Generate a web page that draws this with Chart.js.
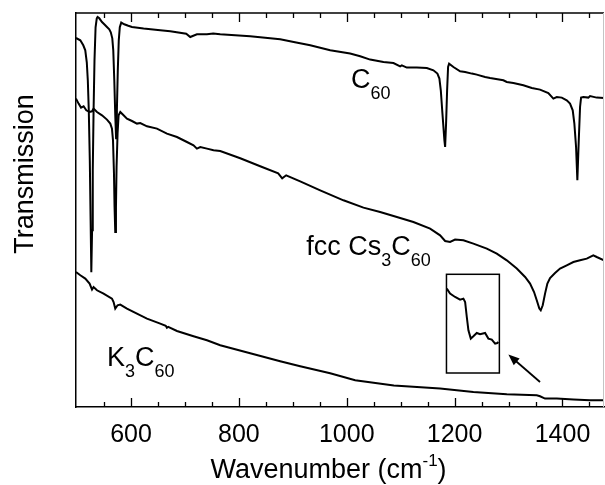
<!DOCTYPE html>
<html>
<head>
<meta charset="utf-8">
<script src="https://cdn.jsdelivr.net/npm/chart.js@4.4.0/dist/chart.umd.min.js"></script>
<style>
  html, body { margin: 0; padding: 0; background: #fff; }
  #chart { display: block; }
</style>
</head>
<body>
<canvas id="chart" width="605" height="485"></canvas>
<script>
// IR transmission spectra, offset vertically (arb. units)
var c60Wn = [498.0, 506.0, 511.5, 515.2, 518.0, 519.9, 521.7, 523.6, 525.1, 526.4, 527.8, 529.1, 530.6, 532.3, 534.3, 536.5, 538.0, 541.2, 546.2, 550.4, 555.4, 559.7, 562.5, 565.3, 567.1, 569.0, 570.8, 572.3, 573.8, 575.5, 577.3, 579.2, 581.9, 587.5, 594.9, 601.8, 623.3, 654.2, 672.8, 702.4, 709.8, 722.2, 740.8, 752.4, 765.4, 793.2, 821.0, 848.8, 876.6, 904.0, 932.3, 969.3, 1006.3, 1024.9, 1043.4, 1068.1, 1086.6, 1099.0, 1102.1, 1111.4, 1129.9, 1148.5, 1160.7, 1168.1, 1171.8, 1174.4, 1177.4, 1181.1, 1182.4, 1184.2, 1186.1, 1187.9, 1189.8, 1197.8, 1210.2, 1219.5, 1231.9, 1241.1, 1256.5, 1265.8, 1290.4, 1296.7, 1309.0, 1327.5, 1343.1, 1358.4, 1373.8, 1383.1, 1389.4, 1398.7, 1407.9, 1414.0, 1419.0, 1422.0, 1425.2, 1427.6, 1430.2, 1432.6, 1434.5, 1438.7, 1448.0, 1451.1, 1463.5, 1477.0];
var c60T = [369.0, 366.7, 361.7, 356.7, 344.7, 326.7, 296.7, 246.7, 186.7, 134.7, 176.7, 236.7, 296.7, 346.7, 379.7, 388.7, 390.0, 388.7, 385.0, 382.7, 380.0, 377.7, 374.7, 368.7, 356.7, 326.7, 291.7, 268.7, 296.7, 336.7, 366.7, 379.7, 384.4, 382.7, 381.2, 380.0, 378.4, 376.7, 375.7, 373.2, 370.0, 372.7, 372.7, 373.4, 372.7, 371.7, 370.7, 369.2, 367.7, 364.7, 361.7, 356.7, 353.4, 350.7, 347.4, 345.0, 344.0, 340.7, 341.7, 339.4, 339.4, 339.0, 336.7, 333.4, 328.4, 316.7, 293.7, 266.7, 260.0, 283.7, 316.7, 340.0, 343.4, 340.0, 335.7, 335.0, 333.4, 332.4, 330.0, 329.0, 326.7, 325.0, 324.0, 321.7, 319.0, 317.4, 314.0, 308.4, 310.0, 309.4, 306.7, 303.4, 296.7, 283.7, 260.0, 226.7, 266.7, 300.0, 309.4, 310.0, 309.4, 311.0, 309.4, 309.0];

var cs3Wn = [498.0, 502.8, 507.3, 512.1, 517.1, 523.2, 527.7, 530.6, 536.9, 546.2, 555.4, 561.6, 564.7, 566.6, 568.4, 569.5, 570.8, 572.1, 573.2, 575.1, 577.0, 580.1, 586.2, 592.5, 601.8, 611.0, 617.2, 629.6, 648.1, 666.6, 685.2, 703.7, 715.9, 722.2, 728.4, 740.8, 753.0, 765.4, 802.5, 839.5, 872.9, 880.3, 887.7, 913.7, 950.8, 993.9, 1031.0, 1061.9, 1092.9, 1123.6, 1154.6, 1173.1, 1182.4, 1191.6, 1200.9, 1216.3, 1234.8, 1259.7, 1278.2, 1296.7, 1315.3, 1330.7, 1339.9, 1347.3, 1352.3, 1357.1, 1359.7, 1363.4, 1367.7, 1372.0, 1377.0, 1386.2, 1395.5, 1407.9, 1420.2, 1432.6, 1445.0, 1457.2, 1463.5, 1477.0];
var cs3T = [308.4, 303.4, 299.4, 300.7, 296.7, 295.0, 295.7, 298.4, 295.0, 291.7, 287.4, 283.4, 278.4, 266.7, 233.7, 200.0, 175.0, 200.0, 240.0, 273.7, 291.7, 295.0, 291.7, 288.4, 286.0, 283.4, 284.0, 280.7, 278.4, 273.4, 270.0, 265.0, 261.7, 258.4, 260.0, 258.4, 256.7, 256.0, 248.7, 240.7, 233.7, 228.7, 231.7, 225.7, 216.7, 206.7, 199.4, 195.0, 190.0, 185.0, 178.4, 171.7, 166.0, 165.0, 167.4, 166.7, 163.4, 158.4, 153.4, 146.7, 138.4, 130.0, 123.4, 115.0, 106.7, 98.4, 96.7, 101.7, 113.4, 123.4, 129.0, 134.0, 138.4, 141.7, 145.0, 146.7, 148.4, 151.7, 150.0, 146.7];

var k3Wn = [498.0, 506.0, 515.2, 523.2, 527.7, 530.6, 536.9, 549.1, 564.7, 567.7, 570.8, 575.1, 580.1, 592.5, 611.0, 629.6, 654.2, 664.4, 666.6, 669.0, 685.2, 715.9, 740.8, 765.4, 821.0, 876.6, 913.7, 969.3, 1015.6, 1087.3, 1173.1, 1234.8, 1296.7, 1352.3, 1358.4, 1367.7, 1389.4, 1420.2, 1451.1, 1477.0];
var k3T = [135.0, 131.7, 128.4, 123.4, 117.4, 120.0, 116.7, 113.4, 108.4, 105.0, 98.4, 101.7, 102.4, 98.4, 93.4, 88.4, 83.4, 81.2, 79.2, 80.2, 76.0, 70.7, 66.7, 61.7, 53.7, 45.7, 40.7, 33.7, 26.7, 21.5, 18.4, 15.0, 12.7, 11.7, 10.7, 8.4, 8.4, 7.4, 6.7, 6.7];

// magnified K3C60 step near 1360 cm-1, shown inside the box
var insetWn = [1185.5, 1191.6, 1200.9, 1210.2, 1216.3, 1219.5, 1222.6, 1225.6, 1230.0, 1234.8, 1241.1, 1247.2, 1256.5, 1262.6, 1268.9, 1275.1, 1279.3, 1281.2];
var insetT = [118.4, 113.4, 110.0, 107.4, 108.4, 105.0, 90.0, 76.7, 68.4, 70.7, 74.0, 72.7, 74.0, 68.4, 67.4, 63.4, 64.0, 65.0];

var insetBoxWn = [1184.9, 1283.0];
var insetBoxT = [34.0, 132.7];
var arrowWn = [1358.4, 1299.7];   // tail, head
var arrowT = [25.0, 52.4];

var tickValues = [600, 800, 1000, 1200, 1400];

var FONT = '"Liberation Sans", Arial, Helvetica, sans-serif';

function toPoints(xs, ys) {
  var pts = [];
  for (var i = 0; i < xs.length; i++) pts.push({ x: xs[i], y: ys[i] });
  return pts;
}

function lineSet(xs, ys) {
  return {
    data: toPoints(xs, ys),
    showLine: true,
    borderColor: '#000',
    borderWidth: 2,
    pointRadius: 0,
    tension: 0,
    fill: false
  };
}

// text with subscript / superscript pieces: [text, shift]
function richText(ctx, parts, x, y, size, smallSize) {
  for (var i = 0; i < parts.length; i++) {
    var p = parts[i];
    ctx.font = (p[1] ? smallSize : size) + 'px ' + FONT;
    ctx.fillText(p[0], x, y + p[1]);
    x += ctx.measureText(p[0]).width;
  }
}
function richWidth(ctx, parts, size, smallSize) {
  var w = 0;
  for (var i = 0; i < parts.length; i++) {
    ctx.font = (parts[i][1] ? smallSize : size) + 'px ' + FONT;
    w += ctx.measureText(parts[i][0]).width;
  }
  return w;
}

var decor = {
  id: 'decor',
  afterDraw: function (chart) {
    var ctx = chart.ctx, sx = chart.scales.x, sy = chart.scales.y, a = chart.chartArea;
    ctx.save();

    // top frame and faint right edge
    ctx.strokeStyle = '#000';
    ctx.lineWidth = 1.5;
    ctx.beginPath();
    ctx.moveTo(a.left, a.top);
    ctx.lineTo(a.right, a.top);
    ctx.stroke();
    ctx.strokeStyle = '#c4c4c4';
    ctx.lineWidth = 1;
    ctx.beginPath();
    ctx.moveTo(a.right - 0.5, a.top);
    ctx.lineTo(a.right - 0.5, a.bottom);
    ctx.stroke();

    // inward ticks, bottom and top
    ctx.strokeStyle = '#000';
    ctx.lineWidth = 1.3;
    for (var v = 550; v <= 1450; v += 50) {
      var px = Math.round(sx.getPixelForValue(v)) + 0.5;
      var len = (v % 200 === 0) ? 9 : 5;
      ctx.beginPath();
      ctx.moveTo(px, a.bottom);
      ctx.lineTo(px, a.bottom - len);
      ctx.moveTo(px, a.top);
      ctx.lineTo(px, a.top + len);
      ctx.stroke();
    }

    // inset frame
    var bx0 = sx.getPixelForValue(insetBoxWn[0]), bx1 = sx.getPixelForValue(insetBoxWn[1]);
    var by0 = sy.getPixelForValue(insetBoxT[1]), by1 = sy.getPixelForValue(insetBoxT[0]);
    ctx.lineWidth = 1.5;
    ctx.strokeRect(bx0, by0, bx1 - bx0, by1 - by0);

    // arrow pointing at the inset
    var tx = sx.getPixelForValue(arrowWn[0]), ty = sy.getPixelForValue(arrowT[0]);
    var hx = sx.getPixelForValue(arrowWn[1]), hy = sy.getPixelForValue(arrowT[1]);
    var ang = Math.atan2(hy - ty, hx - tx);
    ctx.lineWidth = 1.8;
    ctx.beginPath();
    ctx.moveTo(tx, ty);
    ctx.lineTo(hx - 6 * Math.cos(ang), hy - 6 * Math.sin(ang));
    ctx.stroke();
    ctx.fillStyle = '#000';
    ctx.beginPath();
    ctx.moveTo(hx, hy);
    ctx.lineTo(hx - 11 * Math.cos(ang) + 4.5 * Math.sin(ang), hy - 11 * Math.sin(ang) - 4.5 * Math.cos(ang));
    ctx.lineTo(hx - 11 * Math.cos(ang) - 4.5 * Math.sin(ang), hy - 11 * Math.sin(ang) + 4.5 * Math.cos(ang));
    ctx.closePath();
    ctx.fill();

    // curve labels
    ctx.textAlign = 'left';
    ctx.textBaseline = 'alphabetic';
    richText(ctx, [['C', 0], ['60', 11]], sx.getPixelForValue(1008), sy.getPixelForValue(318.7), 27, 18);
    richText(ctx, [['fcc Cs', 0], ['3', 11], ['C', 0], ['60', 11]], sx.getPixelForValue(925), sy.getPixelForValue(151.7), 27, 18);
    richText(ctx, [['K', 0], ['3', 11], ['C', 0], ['60', 11]], sx.getPixelForValue(555.4), sy.getPixelForValue(40.7), 27, 18);

    // axis titles
    var xt = [['Wavenumber (cm', 0], ['-1', -12], [')', 0]];
    var w = richWidth(ctx, xt, 27, 17);
    richText(ctx, xt, 328.5 - w / 2, 478, 27, 17);

    ctx.translate(33, 174);
    ctx.rotate(-Math.PI / 2);
    ctx.textAlign = 'center';
    ctx.font = '27px ' + FONT;
    ctx.fillText('Transmission', 0, 0);

    ctx.restore();
  }
};

new Chart(document.getElementById('chart').getContext('2d'), {
  type: 'scatter',
  data: {
    datasets: [
      lineSet(c60Wn, c60T),
      lineSet(cs3Wn, cs3T),
      lineSet(k3Wn, k3T),
      lineSet(insetWn, insetT)
    ]
  },
  options: {
    responsive: false,
    animation: false,
    devicePixelRatio: 1,
    layout: { padding: { left: 0, top: 13, right: 1, bottom: 0 } },
    plugins: {
      legend: { display: false },
      tooltip: { enabled: false }
    },
    scales: {
      x: {
        type: 'linear',
        min: 498,
        max: 1477,
        afterBuildTicks: function (s) {
          s.ticks = tickValues.map(function (v) { return { value: v }; });
        },
        afterFit: function (s) { s.height = 78; },
        ticks: {
          color: '#000',
          font: { family: FONT, size: 25 },
          padding: 13,
          maxRotation: 0,
          callback: function (v) { return String(v); }
        },
        grid: { display: false, drawTicks: false },
        border: { display: true, color: '#000', width: 1.5 }
      },
      y: {
        min: 0,
        max: 394,
        afterFit: function (s) { s.width = 76; },
        ticks: { display: false },
        grid: { display: false, drawTicks: false },
        border: { display: true, color: '#000', width: 1.5 }
      }
    }
  },
  plugins: [decor]
});
</script>
</body>
</html>
